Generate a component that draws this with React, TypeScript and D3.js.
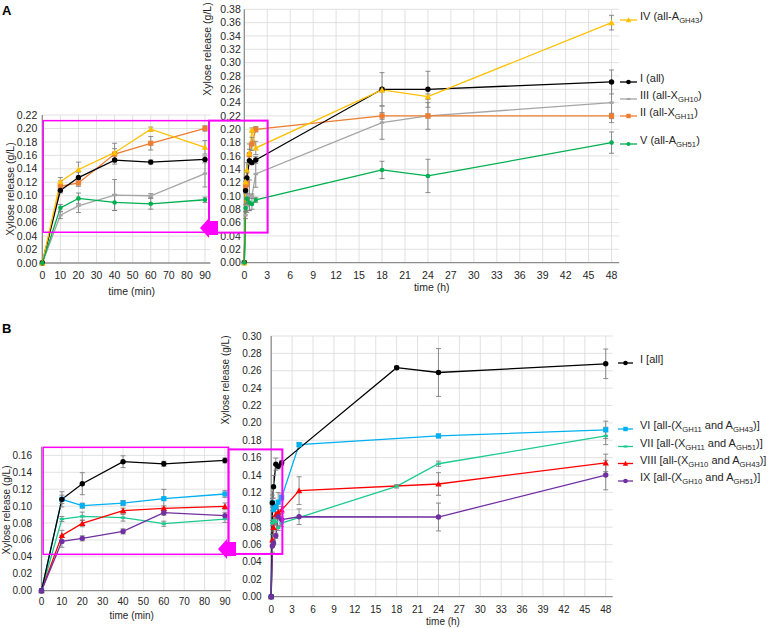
import React from 'react';
import * as d3 from 'd3';

// ---------------- DATA ----------------
// Panel A
const timesMinA = [0, 10, 20, 40, 60, 90];
const timesHourA = [0, 0.167, 0.333, 0.667, 1, 1.5, 18, 24, 48];
const aI = [0, 0.108, 0.127, 0.153, 0.150, 0.154, 0.260, 0.260, 0.271];
const aII = [0, 0.114, 0.119, 0.162, 0.178, 0.200, 0.220, 0.220, 0.220];
const aIII = [0, 0.071, 0.085, 0.101, 0.100, 0.133, 0.210, 0.220, 0.240];
const aIV = [0, 0.121, 0.139, 0.164, 0.199, 0.172, 0.259, 0.249, 0.360];
const aV = [0, 0.082, 0.096, 0.090, 0.088, 0.094, 0.139, 0.130, 0.180];
const aIerr = [0, 0.004, 0.008, 0.006, 0.003, 0.005, 0.025, 0.027, 0.018];
const aIIerr = [0, 0.008, 0.005, 0.008, 0.010, 0.004, 0.005, 0.003, 0.004];
const aIIIerr = [0, 0.005, 0.010, 0.023, 0.003, 0.020, 0.025, 0.020, 0.030];
const aIVerr = [0, 0.006, 0.011, 0.014, 0.003, 0.010, 0.003, 0.004, 0.011];
const aVerr = [0, 0.005, 0.008, 0.012, 0.008, 0.004, 0.013, 0.025, 0.016];
const legendA = ['IV (all-A_{GH43})', 'I (all)', 'III (all-X_{GH10})', 'II (all-X_{GH11})', 'V (all-A_{GH51})'];

// Panel B
const timesMinB = [0, 10, 20, 40, 60, 90];
const timesHourB = [0, 0.167, 0.333, 0.667, 1, 1.5, 4, 18, 24, 48];
const bI = [0, 0.108, 0.1265, 0.1525, 0.150, 0.154, null, 0.2635, 0.258, 0.268];
const bVI = [0, 0.108, 0.1005, 0.1036, 0.1088, 0.1143, 0.175, null, 0.185, 0.192];
const bVII = [0, 0.0847, 0.0879, 0.0863, 0.0792, 0.0847, null, 0.127, 0.153, 0.185];
const bVIII = [0, 0.0654, 0.0796, 0.0946, 0.0973, 0.0997, 0.122, null, 0.1297, 0.154];
const bIX = [0, 0.0583, 0.0619, 0.0701, 0.0922, 0.0887, 0.092, null, 0.0917, 0.140];
const bIerr = [0, 0.009, 0.013, 0.007, 0.003, 0.003, 0, 0.002, 0.0275, 0.017];
const bVIerr = [0, 0.005, 0.003, 0.003, 0.011, 0.004, 0.002, 0, 0.002, 0.010];
const bVIIerr = [0, 0.003, 0.005, 0.004, 0.003, 0.004, 0, 0.002, 0.003, 0.010];
const bVIIIerr = [0, 0.006, 0.004, 0.003, 0.003, 0.004, 0.016, 0, 0.013, 0.010];
const bIXerr = [0, 0.007, 0.003, 0.003, 0.003, 0.004, 0.009, 0, 0.016, 0.017];
const legendB = ['I [all]', 'VI [all-(X_{GH11} and A_{GH43})]', 'VII [all-(X_{GH11} and A_{GH51})]', 'VIII [all-(X_{GH10} and A_{GH43})]', 'IX [all-(X_{GH10} and A_{GH51})]'];

// Ticks
const xTicksMin = [0, 10, 20, 30, 40, 50, 60, 70, 80, 90];
const xTicksHour = [0, 3, 6, 9, 12, 15, 18, 21, 24, 27, 30, 33, 36, 39, 42, 45, 48];
const yTicksAInset = [0, 0.02, 0.04, 0.06, 0.08, 0.10, 0.12, 0.14, 0.16, 0.18, 0.20, 0.22];
const yTicksAMain = [0, 0.02, 0.04, 0.06, 0.08, 0.10, 0.12, 0.14, 0.16, 0.18, 0.20, 0.22, 0.24, 0.26, 0.28, 0.30, 0.32, 0.34, 0.36, 0.38];
const yTicksBInset = [0, 0.02, 0.04, 0.06, 0.08, 0.10, 0.12, 0.14, 0.16];
const yTicksBMain = [0, 0.02, 0.04, 0.06, 0.08, 0.10, 0.12, 0.14, 0.16, 0.18, 0.20, 0.22, 0.24, 0.26, 0.28, 0.30];

// ---------------- STYLE ----------------
const FONT = 'Liberation Sans, Arial, sans-serif';
const GRID = '#d9d9d9';
const AXIS = '#8c8c8c';
const ERR = '#808080';
const MAG = '#ff00ff';

type Shape = 'circle' | 'square' | 'triangle' | 'dash' | 'dot';
interface Series { values: (number | null)[]; err: number[]; color: string; shape: Shape; }

const sAI: Series = { values: aI, err: aIerr, color: '#000000', shape: 'circle' };
const sAII: Series = { values: aII, err: aIIerr, color: '#ed7d31', shape: 'square' };
const sAIII: Series = { values: aIII, err: aIIIerr, color: '#a5a5a5', shape: 'dash' };
const sAIV: Series = { values: aIV, err: aIVerr, color: '#ffc000', shape: 'triangle' };
const sAV: Series = { values: aV, err: aVerr, color: '#00b050', shape: 'dot' };
const seriesA: Series[] = [sAIII, sAII, sAI, sAIV, sAV]; // draw order
const legendAStyle = [sAIV, sAI, sAIII, sAII, sAV];
const legendAY = [20, 82, 99, 116, 144];

const sBI: Series = { values: bI, err: bIerr, color: '#000000', shape: 'circle' };
const sBVI: Series = { values: bVI, err: bVIerr, color: '#00b0f0', shape: 'square' };
const sBVII: Series = { values: bVII, err: bVIIerr, color: '#1ccb8f', shape: 'dash' };
const sBVIII: Series = { values: bVIII, err: bVIIIerr, color: '#ff0000', shape: 'triangle' };
const sBIX: Series = { values: bIX, err: bIXerr, color: '#7030a0', shape: 'circle' };
const seriesB: Series[] = [sBVII, sBVIII, sBVI, sBI, sBIX]; // draw order
const legendBStyle = [sBI, sBVI, sBVII, sBVIII, sBIX];
const legendBY = [363, 429, 446.5, 463.5, 481];

function Marker({ shape, cx, cy, color, k = 1 }: { shape: Shape; cx: number; cy: number; color: string; k?: number }) {
  if (shape === 'circle') return <circle cx={cx} cy={cy} r={2.7 * k} fill={color} />;
  if (shape === 'dot') return <circle cx={cx} cy={cy} r={2.3 * k} fill={color} />;
  if (shape === 'square') return <rect x={cx - 2.6 * k} y={cy - 2.6 * k} width={5.2 * k} height={5.2 * k} fill={color} />;
  if (shape === 'triangle') {
    const s = 3.2 * k;
    return <path d={`M${cx},${cy - s}L${cx + s},${cy + s * 0.8}L${cx - s},${cy + s * 0.8}Z`} fill={color} />;
  }
  return <rect x={cx - 2.2 * k} y={cy - 1.2 * k} width={4.4 * k} height={2.4 * k} fill={color} />;
}

interface PanelProps {
  xDomain: [number, number]; xRange: [number, number];
  yDomain: [number, number]; yRange: [number, number];
  xTicks: number[]; yTicks: number[];
  times: number[]; series: Series[]; n: number;
  fs: number; yGap: number; xLabY: number;
}

function Panel(p: PanelProps) {
  const x = d3.scaleLinear().domain(p.xDomain).range(p.xRange);
  const y = d3.scaleLinear().domain(p.yDomain).range(p.yRange);
  const fmt = d3.format('.2f');
  const line = d3.line<[number, number]>().x(d => x(d[0])).y(d => y(d[1]));
  const y0 = y(p.yDomain[0]);
  const y1 = y(p.yDomain[1]);
  const x0 = x(p.xDomain[0]);
  const x1 = x(p.xDomain[1]);
  const pts = p.series.map(s => p.times.slice(0, p.n).map((t, i) => ({ t, v: s.values[i], e: s.err[i] })).filter(d => d.v != null) as { t: number; v: number; e: number }[]);
  return (
    <g>
      {p.xTicks.filter(t => t > p.xDomain[0]).map(t => (
        <line key={'gx' + t} x1={x(t)} x2={x(t)} y1={y0} y2={y1} stroke={GRID} strokeWidth={0.8} />
      ))}
      {p.yTicks.filter(t => t > p.yDomain[0]).map(t => (
        <line key={'gy' + t} x1={x0} x2={x1} y1={y(t)} y2={y(t)} stroke={GRID} strokeWidth={0.8} />
      ))}
      <line x1={x0} x2={x1} y1={y0} y2={y0} stroke={AXIS} strokeWidth={1.3} />
      <line x1={x0} x2={x0} y1={y0} y2={y1} stroke={AXIS} strokeWidth={1.3} />
      {p.yTicks.map(t => (
        <text key={'ty' + t} x={x0 - p.yGap} y={y(t)} dy="0.35em" textAnchor="end" fontSize={p.fs} fontFamily={FONT} fill="#262626">{fmt(t)}</text>
      ))}
      {p.xTicks.map(t => (
        <text key={'tx' + t} x={x(t)} y={p.xLabY} textAnchor="middle" fontSize={p.fs} fontFamily={FONT} fill="#262626">{t}</text>
      ))}
      {p.series.map((s, si) => (
        <path key={'l' + si} d={line(pts[si].map(d => [d.t, d.v]) as [number, number][]) || ''} fill="none" stroke={s.color} strokeWidth={1.3} />
      ))}
      {p.series.map((s, si) => pts[si].filter(d => d.e > 0).map((d, i) => (
        <g key={'e' + si + '_' + i} stroke={ERR} strokeWidth={0.9}>
          <line x1={x(d.t)} x2={x(d.t)} y1={y(d.v - d.e)} y2={y(d.v + d.e)} />
          <line x1={x(d.t) - 2.5} x2={x(d.t) + 2.5} y1={y(d.v - d.e)} y2={y(d.v - d.e)} />
          <line x1={x(d.t) - 2.5} x2={x(d.t) + 2.5} y1={y(d.v + d.e)} y2={y(d.v + d.e)} />
        </g>
      )))}
      {p.series.map((s, si) => pts[si].map((d, i) => (
        <Marker key={'m' + si + '_' + i} shape={s.shape} cx={x(d.t)} cy={y(d.v)} color={s.color} />
      )))}
    </g>
  );
}

function LegendText({ x, y, label, fs }: { x: number; y: number; label: string; fs: number }) {
  const parts = label.split(/(_\{[^}]*\})/).filter(s => s.length > 0);
  let sub = false;
  return (
    <text x={x} y={y} dy="0.35em" fontSize={fs} fontFamily={FONT} fill="#262626">
      {parts.map((pt, i) => {
        if (pt.startsWith('_{')) {
          const el = <tspan key={i} dy={sub ? 0 : 3} fontSize={fs * 0.7}>{pt.slice(2, -1)}</tspan>;
          sub = true;
          return el;
        }
        const el = <tspan key={i} dy={sub ? -3 : 0}>{pt}</tspan>;
        sub = false;
        return el;
      })}
    </text>
  );
}

function Legend({ styles, labels, ys, x1, x2, tx, fs }: { styles: Series[]; labels: string[]; ys: number[]; x1: number; x2: number; tx: number; fs: number }) {
  return (
    <g>
      {labels.map((lab, i) => (
        <g key={i}>
          <line x1={x1} x2={x2} y1={ys[i]} y2={ys[i]} stroke={styles[i].color} strokeWidth={1.3} />
          <Marker shape={styles[i].shape} cx={(x1 + x2) / 2} cy={ys[i]} color={styles[i].color} k={0.85} />
          <LegendText x={tx} y={ys[i]} label={lab} fs={fs} />
        </g>
      ))}
    </g>
  );
}

function Arrow({ tipX, cy }: { tipX: number; cy: number }) {
  const hb = tipX + 9;
  const e = tipX + 18;
  const d = `M${tipX},${cy}L${hb},${cy - 10}L${hb},${cy - 7}L${e},${cy - 7}L${e},${cy + 7}L${hb},${cy + 7}L${hb},${cy + 10}Z`;
  return <path d={d} fill={MAG} />;
}

function YTitle({ x, y, fs }: { x: number; y: number; fs: number }) {
  return <text transform={`translate(${x},${y}) rotate(-90)`} textAnchor="middle" dy="0.35em" fontSize={fs} fontFamily={FONT} fill="#262626">Xylose release (g/L)</text>;
}

export default function App() {
  // scales for annotation boxes
  const axIn = d3.scaleLinear().domain([0, 93]).range([42.3, 210.4]);
  const ayIn = d3.scaleLinear().domain([0, 0.22]).range([263, 115]);
  const axMain = d3.scaleLinear().domain([0, 49]).range([244.3, 619.2]);
  const ayMain = d3.scaleLinear().domain([0, 0.38]).range([262.6, 9.3]);
  const bxIn = d3.scaleLinear().domain([0, 93]).range([41.5, 231.1]);
  const byIn = d3.scaleLinear().domain([0, 0.17]).range([590.7, 446.9]);
  const bxMain = d3.scaleLinear().domain([0, 49]).range([271.2, 612.7]);
  const byMain = d3.scaleLinear().domain([0, 0.30]).range([596.7, 336]);

  return (
    <svg width={779} height={628} style={{ position: 'absolute', left: 0, top: 0, background: '#fff' }}>
      <rect x={0} y={0} width={779} height={628} fill="#fff" />
      {/* Panel A */}
      <Panel xDomain={[0, 93]} xRange={[42.3, 210.4]} yDomain={[0, 0.22]} yRange={[263, 115]}
        xTicks={xTicksMin} yTicks={yTicksAInset} times={timesMinA} series={seriesA} n={6} fs={10.5} yGap={5} xLabY={278.5} />
      <Panel xDomain={[0, 49]} xRange={[244.3, 619.2]} yDomain={[0, 0.38]} yRange={[262.6, 9.3]}
        xTicks={xTicksHour} yTicks={yTicksAMain} times={timesHourA} series={seriesA} n={9} fs={10.5} yGap={3.5} xLabY={278.5} />
      <rect x={axIn(0.5)} y={ayIn(0.2116)} width={209 - axIn(0.5)} height={ayIn(0.0457) - ayIn(0.2116)} fill="none" stroke={MAG} strokeWidth={1.5} />
      <rect x={209} y={ayMain(0.213)} width={axMain(3.05) - 209} height={ayMain(0.045) - ayMain(0.213)} fill="none" stroke={MAG} strokeWidth={2} />
      <Arrow tipX={200} cy={228} />
      <YTitle x={10} y={189} fs={10.5} />
      <YTitle x={207} y={49} fs={10.5} />
      <text x={131.7} y={294.5} textAnchor="middle" fontSize={10.5} fontFamily={FONT} fill="#262626">time (min)</text>
      <text x={431.7} y={290.5} textAnchor="middle" fontSize={10.5} fontFamily={FONT} fill="#262626">time (h)</text>
      <Legend styles={legendAStyle} labels={legendA} ys={legendAY} x1={620} x2={637} tx={640} fs={11} />
      <text x={2} y={15} fontSize={13} fontWeight="bold" fontFamily={FONT}>A</text>

      {/* Panel B */}
      <Panel xDomain={[0, 93]} xRange={[41.5, 231.1]} yDomain={[0, 0.17]} yRange={[590.7, 446.9]}
        xTicks={xTicksMin} yTicks={yTicksBInset} times={timesMinB} series={seriesB} n={6} fs={10} yGap={9.5} xLabY={605.2} />
      <Panel xDomain={[0, 49]} xRange={[271.2, 612.7]} yDomain={[0, 0.30]} yRange={[596.7, 336]}
        xTicks={xTicksHour} yTicks={yTicksBMain} times={timesHourB} series={seriesB} n={10} fs={10} yGap={9.5} xLabY={612.8} />
      <rect x={bxIn(0.8)} y={byIn(0.1695)} width={228.5 - bxIn(0.8)} height={byIn(0.043) - byIn(0.1695)} fill="none" stroke={MAG} strokeWidth={1.5} />
      <rect x={228.5} y={byMain(0.1695)} width={bxMain(1.6) - 228.5} height={byMain(0.0492) - byMain(0.1695)} fill="none" stroke={MAG} strokeWidth={2} />
      <Arrow tipX={218} cy={549} />
      <YTitle x={6} y={510} fs={10} />
      <YTitle x={225} y={380} fs={10} />
      <text x={131.7} y={618.5} textAnchor="middle" fontSize={10} fontFamily={FONT} fill="#262626">time (min)</text>
      <text x={443} y={625.2} textAnchor="middle" fontSize={10} fontFamily={FONT} fill="#262626">time (h)</text>
      <Legend styles={legendBStyle} labels={legendB} ys={legendBY} x1={618} x2={633} tx={640} fs={11} />
      <text x={2} y={333} fontSize={13} fontWeight="bold" fontFamily={FONT}>B</text>
    </svg>
  );
}
